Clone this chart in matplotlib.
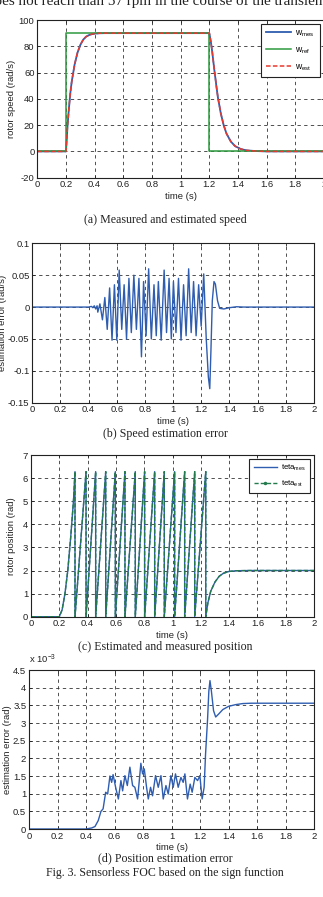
import matplotlib
matplotlib.use("Agg")
import matplotlib.pyplot as plt
from matplotlib.ticker import FormatStrFormatter

# ---------------- data ----------------
# (a) speed
t_ref = [0, 0.2, 0.2, 1.2, 1.2, 2.0]
w_ref = [0, 0, 90, 90, 0, 0]
t_mes = [0, 0.2, 0.205, 0.21, 0.22, 0.23, 0.24, 0.26, 0.28, 0.30, 0.32, 0.34, 0.36,
         0.38, 0.40, 0.43, 0.47, 0.55, 1.2, 1.21, 1.22, 1.235, 1.25, 1.26, 1.28,
         1.30, 1.32, 1.35, 1.38, 1.42, 1.46, 1.52, 1.6, 2.0]
w_mes = [0, 0, 8, 18, 32, 44, 53, 66, 75, 81, 85, 87.3, 88.5, 89.2, 89.6, 89.9,
         90, 90, 90, 84, 76, 62, 49, 41, 29, 20, 13.5, 7.5, 4, 1.8, 0.8, 0.3, 0, 0]
w_est = w_mes

# (b) speed estimation error
t_err = [0, 0.40, 0.42, 0.43, 0.44, 0.45, 0.46, 0.465, 0.48, 0.498, 0.515, 0.532,
         0.549, 0.566, 0.583, 0.600, 0.617, 0.635, 0.652, 0.669, 0.686, 0.703,
         0.721, 0.739, 0.757, 0.775, 0.790, 0.808, 0.826, 0.845, 0.864, 0.880,
         0.895, 0.915, 0.936, 0.953, 0.971, 0.987, 1.002, 1.020, 1.038, 1.056,
         1.074, 1.092, 1.110, 1.128, 1.145, 1.163, 1.181, 1.199, 1.217, 1.235,
         1.25, 1.26, 1.268, 1.278, 1.29, 1.30, 1.315, 1.33, 1.36, 1.40, 1.45,
         1.5, 2.0]
e_err = [0, 0, 0.001, -0.001, 0.002, -0.003, 0.002, -0.008, 0.005, -0.02, 0.015,
         -0.035, 0.03, -0.052, 0.035, -0.052, 0.058, -0.035, 0.035, -0.05, 0.045,
         -0.04, 0.05, -0.035, 0.045, -0.078, 0.04, -0.045, 0.06, -0.05, 0.035,
         -0.045, 0.04, -0.052, 0.058, -0.04, 0.045, -0.05, 0.04, -0.04, 0.045,
         -0.052, 0.035, -0.045, 0.06, -0.04, 0.04, -0.045, 0.035, -0.03, 0.052,
         -0.05, -0.11, -0.128, -0.07, 0.01, 0.04, 0.036, 0.01, -0.002, -0.003,
         -0.001, 0.0005, 0, 0]

# (c) rotor position (sawtooth)
t_pos = [0, 0.2, 0.22, 0.24, 0.26, 0.28, 0.30, 0.311, 0.311, 0.389, 0.389,
         0.457, 0.457, 0.528, 0.528, 0.596, 0.596, 0.664, 0.664, 0.737, 0.737,
         0.803, 0.803, 0.874, 0.874, 0.942, 0.942, 1.015, 1.015, 1.086, 1.086,
         1.157, 1.157, 1.235, 1.235, 1.25, 1.27, 1.30, 1.33, 1.36, 1.40, 1.45,
         1.55, 2.0]
teta_mes = [0, 0, 0.3, 1.0, 2.0, 3.4, 5.0, 6.28, 0, 6.28, 0, 6.28, 0, 6.28, 0,
            6.28, 0, 6.28, 0, 6.28, 0, 6.28, 0, 6.28, 0, 6.28, 0, 6.28, 0, 6.28,
            0, 6.28, 0, 6.28, 0, 0.6, 1.1, 1.5, 1.75, 1.88, 1.96, 1.99, 2.0, 2.0]
teta_est = teta_mes

# (d) position estimation error (x 1e-3 rad)
t_perr = [0, 0.40, 0.44, 0.463, 0.486, 0.505, 0.52, 0.538, 0.552, 0.568, 0.58,
          0.59, 0.608, 0.627, 0.645, 0.657, 0.673, 0.69, 0.708, 0.727, 0.743,
          0.762, 0.774, 0.785, 0.797, 0.809, 0.825, 0.837, 0.853, 0.867, 0.888,
          0.907, 0.926, 0.942, 0.961, 0.977, 0.996, 1.012, 1.028, 1.047, 1.066,
          1.082, 1.094, 1.112, 1.131, 1.145, 1.164, 1.183, 1.199, 1.215, 1.229,
          1.239, 1.253, 1.262, 1.27, 1.28, 1.295, 1.31, 1.33, 1.36, 1.40, 1.45,
          1.50, 1.56, 2.0]
p_err = [0, 0, 0.03, 0.07, 0.24, 0.5, 0.57, 1.04, 0.99, 1.5, 1.32, 1.54, 1.18,
         0.85, 1.37, 1.08, 1.51, 1.23, 1.75, 1.23, 1.18, 0.85, 1.37, 1.86, 1.56,
         1.7, 1.18, 0.85, 1.18, 0.94, 1.51, 1.18, 1.51, 0.85, 1.23, 0.99, 1.51,
         1.18, 1.56, 1.18, 1.46, 1.32, 1.56, 0.85, 1.27, 1.04, 1.46, 1.37, 1.51,
         0.85, 1.18, 2.12, 3.1, 3.9, 4.2, 3.9, 3.35, 3.17, 3.25, 3.38, 3.47,
         3.52, 3.55, 3.56, 3.56]

# ---------------- style ----------------
W, H = 323, 897
fig = plt.figure(figsize=(W / 100, H / 100), dpi=100)
SANS = ["Liberation Sans", "DejaVu Sans"]
SERIF = ["Liberation Serif", "DejaVu Serif"]
plt.rcParams["font.family"] = SANS
plt.rcParams["mathtext.fontset"] = "custom"
plt.rcParams["mathtext.rm"] = "Liberation Sans"

BLUE = "#2f5db0"
GREEN = "#2e9a3e"
RED = "#e8392e"
TEAL = "#237a4c"
FS = 6.8
CAP = 8.6


def rect(l, r, t, b):
    return [l / W, 1 - b / H, (r - l) / W, (b - t) / H]


def style(ax, xlim, ylim, xt, yt, fmt_x="%g", fmt_y="%g"):
    ax.set_xlim(*xlim)
    ax.set_ylim(*ylim)
    ax.set_xticks(xt)
    ax.set_yticks(yt)
    ax.xaxis.set_major_formatter(FormatStrFormatter(fmt_x))
    ax.yaxis.set_major_formatter(FormatStrFormatter(fmt_y))
    ax.tick_params(direction="in", length=2.5, width=0.6, labelsize=FS,
                   top=True, right=True, pad=2, colors="#222")
    ax.grid(True, color="#333", linestyle=(0, (4, 4)), linewidth=0.6)
    for s in ax.spines.values():
        s.set_linewidth(0.8)
        s.set_color("#222")
    ax.set_xlabel("time (s)", fontsize=FS, labelpad=1.5, color="#222")


xt = [0, 0.2, 0.4, 0.6, 0.8, 1, 1.2, 1.4, 1.6, 1.8, 2]

# top (cut) line of text from the page
fig.text(-0.04, 1 - 5.0 / H, "does not reach than 57 rpm in the course of the transient",
         family=SERIF, fontsize=10.9, va="baseline", ha="left", color="#222")

# (a)
ax = fig.add_axes(rect(37.3, 324, 20, 177.7))
style(ax, (0, 2), (-20, 100), xt, [-20, 0, 20, 40, 60, 80, 100])
ax.plot(t_mes, w_mes, color=BLUE, lw=1.3, label=r"$\mathregular{w_{mes}}$")
ax.plot(t_ref, w_ref, color=GREEN, lw=1.1, label=r"$\mathregular{w_{ref}}$")
ax.plot(t_mes, w_est, color=RED, lw=1.1, ls=(0, (3, 1.5)), label=r"$\mathregular{w_{est}}$")
ax.set_ylabel("rotor speed (rad/s)", fontsize=FS, labelpad=2, color="#222")
leg = ax.legend(loc="upper right", bbox_to_anchor=(1.0, 1.005), fontsize=6.2,
                handlelength=2.9, labelspacing=0.75, borderpad=0.55,
                handletextpad=0.5, fancybox=False, framealpha=1)
leg.get_frame().set_edgecolor("#222")
leg.get_frame().set_linewidth(0.8)
fig.text(165 / W, 1 - 220 / H, "(a) Measured and estimated speed", family=SERIF,
         fontsize=CAP, ha="center", va="center", color="#222")

# (b)
ax = fig.add_axes(rect(32.3, 314, 243.3, 402.7))
style(ax, (0, 2), (-0.15, 0.1), xt, [-0.15, -0.1, -0.05, 0, 0.05, 0.1])
ax.plot(t_err, e_err, color=BLUE, lw=1.0)
ax.set_ylabel("estimation error (rad/s)", fontsize=FS, labelpad=1, color="#222")
fig.text(165 / W, 1 - 434 / H, "(b) Speed estimation error", family=SERIF,
         fontsize=CAP, ha="center", va="center", color="#222")

# (c)
ax = fig.add_axes(rect(31, 314, 455, 616.7))
style(ax, (0, 2), (0, 7), xt, [0, 1, 2, 3, 4, 5, 6, 7])
ax.plot(t_pos, teta_mes, color=BLUE, lw=1.0)
ax.plot(t_pos, teta_est, color=TEAL, lw=1.0, ls=(0, (3, 1.5)))
ax.set_ylabel("rotor position (rad)", fontsize=FS, labelpad=5, color="#222")
h1, = ax.plot([], [], color=BLUE, lw=1.0)
h2, = ax.plot([], [], color=TEAL, lw=1.0, ls=(0, (3, 1.5)), marker=".", markersize=3,
              markevery=[1])
leg = ax.legend([h1, h2], [r"$\mathregular{teta_{mes}}$", r"$\mathregular{teta_{est}}$"],
                loc="upper right", bbox_to_anchor=(1.0, 1.0), fontsize=5.6,
                handlelength=3.0, labelspacing=0.7, borderpad=0.55,
                handletextpad=0.5, fancybox=False, framealpha=1)
leg.get_frame().set_edgecolor("#222")
leg.get_frame().set_linewidth(0.8)
fig.text(165 / W, 1 - 647 / H, "(c) Estimated and measured position", family=SERIF,
         fontsize=CAP, ha="center", va="center", color="#222")

# (d)
ax = fig.add_axes(rect(29, 314, 670, 829))
style(ax, (0, 2), (0, 4.5), xt, [0, 0.5, 1, 1.5, 2, 2.5, 3, 3.5, 4, 4.5])
ax.plot(t_perr, p_err, color=BLUE, lw=1.0)
ax.set_ylabel("estimation error (rad)", fontsize=FS, labelpad=1, color="#222")
ax.text(0.0, 1.025, r"x $\mathregular{10^{-3}}$", transform=ax.transAxes,
        fontsize=FS, ha="left", va="bottom", color="#222")
fig.text(165 / W, 1 - 858 / H, "(d) Position estimation error", family=SERIF,
         fontsize=CAP, ha="center", va="center", color="#222")
fig.text(165 / W, 1 - 873 / H, "Fig. 3. Sensorless FOC based on the sign function",
         family=SERIF, fontsize=CAP, ha="center", va="center", color="#222")

fig.savefig("out.png", dpi=100)
